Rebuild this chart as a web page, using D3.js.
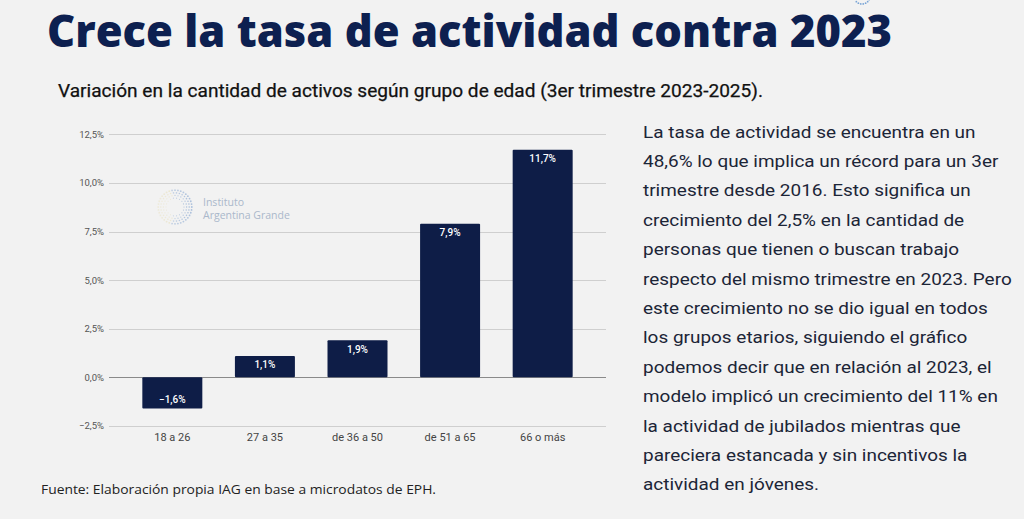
<!DOCTYPE html>
<html>
<head>
<meta charset="utf-8">
<script src="https://cdn.jsdelivr.net/npm/d3@7"></script>
<style>
  html, body { margin: 0; padding: 0; background: #f2f2f2; }
  svg { display: block; }
</style>
</head>
<body>
<div id="chart"></div>
<script>
// Datos del gráfico
const categories = ["18 a 26", "27 a 35", "de 36 a 50", "de 51 a 65", "66 o más"];
const values = [-1.6, 1.1, 1.9, 7.9, 11.7];
const yTicks = [-2.5, 0, 2.5, 5, 7.5, 10, 12.5];

const titleText = "Crece la tasa de actividad contra 2023";
const subtitleText = "Variación en la cantidad de activos según grupo de edad (3er trimestre 2023-2025).";
const sourceText = "Fuente: Elaboración propia IAG en base a microdatos de EPH.";
const paragraphLines = [
  "La tasa de actividad se encuentra en un",
  "48,6% lo que implica un récord para un 3er",
  "trimestre desde 2016. Esto significa un",
  "crecimiento del 2,5% en la cantidad de",
  "personas que tienen o buscan trabajo",
  "respecto del mismo trimestre en 2023. Pero",
  "este crecimiento no se dio igual en todos",
  "los grupos etarios, siguiendo el gráfico",
  "podemos decir que en relación al 2023, el",
  "modelo implicó un crecimiento del 11% en",
  "la actividad de jubilados mientras que",
  "pareciera estancada y sin incentivos la",
  "actividad en jóvenes."
];

const width = 1024, height = 519;
const navy = "#0e1d47";
const fmt = v => d3.format(".1f")(v).replace(".", ",") + "%";

const svg = d3.select("#chart").append("svg")
    .attr("width", width)
    .attr("height", height);

svg.append("rect").attr("width", width).attr("height", height).attr("fill", "#f2f2f2");

// Título
svg.append("text")
    .attr("x", 47).attr("y", 46.5)
    .attr("font-family", "'Open Sans', sans-serif")
    .attr("font-weight", 800)
    .attr("font-size", 43.5)
    .attr("fill", "#0d2050")
    .attr("textLength", 845)
    .attr("lengthAdjust", "spacingAndGlyphs")
    .text(titleText);

// Subtítulo
svg.append("text")
    .attr("x", 58).attr("y", 96.5)
    .attr("font-family", "Roboto, sans-serif")
    .attr("font-weight", 400)
    .attr("font-size", 18.5)
    .attr("fill", "#111")
    .attr("stroke", "#111")
    .attr("stroke-width", 0.25)
    .attr("textLength", 705)
    .attr("lengthAdjust", "spacingAndGlyphs")
    .text(subtitleText);

// Escalas
const x = d3.scaleBand()
    .domain(categories)
    .range([109, 606])
    .paddingInner(0.352)
    .paddingOuter(0.36);

const y = d3.scaleLinear()
    .domain([-2.5, 12.5])
    .range([425.9, 134.3]);

const g = svg.append("g");

// Grilla
g.selectAll("line.grid")
    .data(yTicks)
    .join("line")
    .attr("class", "grid")
    .attr("x1", 109).attr("x2", 606)
    .attr("y1", d => Math.round(y(d)) + 0.5)
    .attr("y2", d => Math.round(y(d)) + 0.5)
    .attr("stroke", d => d === 0 ? "#8a8a8a" : "#cfcfcf")
    .attr("stroke-width", 1);

// Eje Y
const yAxis = g.append("g")
    .attr("transform", "translate(104,0)")
    .call(d3.axisLeft(y).tickValues(yTicks).tickSize(0).tickPadding(0).tickFormat(fmt));
yAxis.select(".domain").remove();
yAxis.selectAll("text")
    .attr("font-family", "Roboto, sans-serif")
    .attr("font-size", 9.5)
    .attr("fill", "#555");

// Marca de agua
const logo = svg.append("g").attr("transform", "translate(175,207)");
const dots = [];
for (let r = 0; r < 4; r++) {
  const rad = 9 + r * 2.6;
  const n = 18 + r * 6;
  for (let i = 0; i < n; i++) {
    const a = (i / n) * Math.PI * 2;
    dots.push({ a, rad, r });
  }
}
logo.selectAll("circle")
    .data(dots)
    .join("circle")
    .attr("cx", d => Math.cos(d.a) * d.rad)
    .attr("cy", d => Math.sin(d.a) * d.rad)
    .attr("r", d => 0.55 + d.r * 0.12)
    .attr("fill", d => Math.cos(d.a) < -0.2 ? "#e6dcb0" : "#9fb7d8")
    .attr("opacity", d => 0.35 + 0.5 * (0.5 + 0.5 * Math.cos(d.a)));
svg.append("text")
    .attr("x", 203).attr("y", 206)
    .attr("font-family", "'Open Sans', sans-serif")
    .attr("font-size", 10.5)
    .attr("fill", "#aab8cb")
    .text("Instituto");
svg.append("text")
    .attr("x", 203).attr("y", 218.5)
    .attr("font-family", "'Open Sans', sans-serif")
    .attr("font-size", 10.5)
    .attr("fill", "#aab8cb")
    .text("Argentina Grande");

// Barras
const data = categories.map((c, i) => ({ cat: c, value: values[i] }));
g.selectAll("rect.bar")
    .data(data)
    .join("rect")
    .attr("class", "bar")
    .attr("x", d => x(d.cat))
    .attr("width", x.bandwidth())
    .attr("y", d => y(Math.max(0, d.value)))
    .attr("height", d => Math.abs(y(d.value) - y(0)))
    .attr("rx", 1)
    .attr("fill", navy);

// Etiquetas de valores
g.selectAll("text.val")
    .data(data)
    .join("text")
    .attr("class", "val")
    .attr("x", d => x(d.cat) + x.bandwidth() / 2)
    .attr("y", d => d.value >= 0 ? y(d.value) + 9 : y(d.value) - 9)
    .attr("dy", "0.35em")
    .attr("text-anchor", "middle")
    .attr("font-family", "Roboto, sans-serif")
    .attr("font-weight", 500)
    .attr("font-size", 10)
    .attr("fill", "#fff")
    .text(d => fmt(d.value));

// Eje X
const xAxis = g.append("g")
    .attr("transform", "translate(0,437)")
    .call(d3.axisBottom(x).tickSize(0).tickPadding(0));
xAxis.select(".domain").remove();
xAxis.selectAll("text")
    .attr("dy", "0.35em")
    .attr("font-family", "Roboto, sans-serif")
    .attr("font-size", 11)
    .attr("fill", "#444");

// Fuente
svg.append("text")
    .attr("x", 41).attr("y", 494)
    .attr("font-family", "'Open Sans', sans-serif")
    .attr("font-size", 12.5)
    .attr("fill", "#222")
    .attr("textLength", 395)
    .attr("lengthAdjust", "spacingAndGlyphs")
    .text(sourceText);

// Texto explicativo (ligeramente estirado en horizontal, como en la imagen)
svg.append("g")
    .attr("transform", "translate(643,0) scale(1.115,1)")
    .selectAll("text")
    .data(paragraphLines)
    .join("text")
    .attr("x", 0)
    .attr("y", (d, i) => 137.7 + i * 29.4)
    .attr("font-family", "Roboto, sans-serif")
    .attr("font-size", 17)
    .attr("fill", "#1c2537")
    .text(d => d);

// Fragmento del logo arriba a la derecha
const topDots = d3.range(7).map(i => ({ a: Math.PI * (0.15 + i * 0.1), rad: 8 }));
svg.append("g").attr("transform", "translate(862,-4)")
    .selectAll("circle")
    .data(topDots)
    .join("circle")
    .attr("cx", d => Math.cos(d.a) * d.rad)
    .attr("cy", d => Math.sin(d.a) * d.rad)
    .attr("r", 0.9)
    .attr("fill", "#7aa5d6");
</script>
</body>
</html>
